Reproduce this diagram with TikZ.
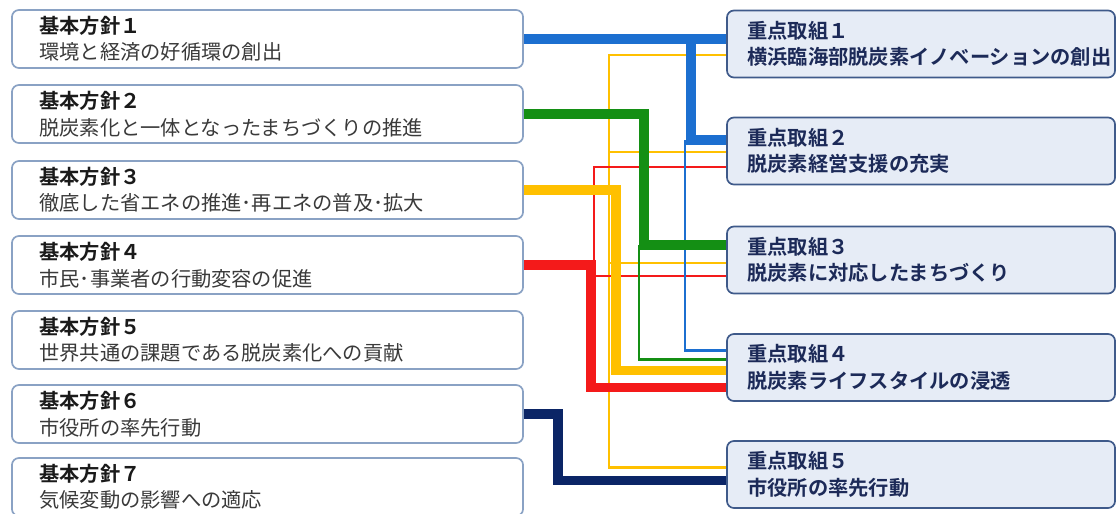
\documentclass[tikz,border=0pt]{standalone}
\usepackage{fontspec}
\newfontfamily\jpfont{Noto Sans CJK JP}[BoldFont={Noto Sans CJK JP Bold}]
\usetikzlibrary{calc,backgrounds}
\definecolor{lline}{HTML}{8AA2C4}
\definecolor{rline}{HTML}{3F5A8A}
\definecolor{rfill}{HTML}{E6ECF6}
\definecolor{ltitle}{HTML}{1A1A1A}
\definecolor{ltext}{HTML}{3A3A3A}
\definecolor{rtext}{HTML}{1C2A58}
\definecolor{cblue}{HTML}{1C6FD0}
\definecolor{cgreen}{HTML}{148F14}
\definecolor{cyellow}{HTML}{FFC000}
\definecolor{cred}{HTML}{F41A1A}
\definecolor{cnavy}{HTML}{0B2566}
\tikzset{
  lbox/.style={draw=lline,line width=1.2pt,fill=white,rounded corners=5pt,minimum width=12.775cm,minimum height=1.45cm},
  rbox/.style={draw=rline,line width=1.2pt,fill=rfill,rounded corners=5pt,minimum width=9.7cm,minimum height=1.675cm},
  ltxt/.style={anchor=west,align=left,inner sep=0pt,text=ltext,font=\jpfont\fontsize{14.4}{18.8}\selectfont},
  rtxt/.style={anchor=west,align=left,inner sep=0pt,text=rtext,font=\jpfont\bfseries\fontsize{14.4}{18.8}\selectfont},
  mainlink/.style={line width=7.1pt},
  sublink/.style={line width=1.6pt}
}
\begin{document}
\begin{tikzpicture}[x=0.025cm,y=-0.025cm]
  \useasboundingbox (0,0) rectangle (1118,513);
  \foreach \i/\n/\y/\txt in {1/１/39/環境と経済の好循環の創出,2/２/114/脱炭素化と一体となったまちづくりの推進,
      3/３/190/徹底した省エネの推進･再エネの普及･拡大,4/４/265/市民･事業者の行動変容の促進,
      5/５/340/世界共通の課題である脱炭素化への貢献,6/６/414/市役所の率先行動,7/７/487/気候変動の影響への適応}{
    \node[lbox] (b\i) at (267.5,\y) {};
    \node[ltxt] (bt\i) at ([xshift=0.7cm]b\i.west) {\textcolor{ltitle}{\bfseries 基本方針\n}\\\txt};
  }
  \foreach \i/\n/\y/\txt in {1/１/44/横浜臨海部脱炭素イノベーションの創出,2/２/151/脱炭素経営支援の充実,
      3/３/260/脱炭素に対応したまちづくり,4/４/367.5/脱炭素ライフスタイルの浸透,5/５/474.5/市役所の率先行動}{
    \node[rbox] (r\i) at (921,\y) {};
    \node[rtxt] (rt\i) at ([xshift=0.525cm]r\i.west) {重点取組\n\\\txt};
  }
  \begin{scope}[on background layer]
    \draw[sublink,cyellow] ($(r1.west)+(0,11)$) -- ++(-117,0) |- ($(r5.west)+(0,-7)$);
    \draw[sublink,cyellow] ($(r2.west)+(0,1)$) -- ++(-117,0);
    \draw[sublink,cyellow] ($(r3.west)+(0,3)$) -- ++(-117,0);
    \draw[sublink,cred] ($(r2.west)+(0,16)$) -- ++(-132,0) |- ($(r3.west)+(0,16)$);
    \draw[sublink,cgreen] ($(r4.west)+(0,-8)$) -| ($(r3.west)+(-87,-15)$);
    \draw[sublink,cblue] ($(r4.west)+(0,-17)$) -| ($(r2.west)+(-41,-11)$);
    \draw[mainlink,cblue] (b1.east) -- (b1.east -| r1.west);
    \draw[mainlink,cblue] ($(r2.west)+(0,-11)$) -| ($(b1.east -| r1.west)+(-35,0)$);
    \draw[mainlink,cgreen] (b2.east) -- ++(120,0) |- ($(r3.west)+(0,-15)$);
    \draw[mainlink,cyellow] (b3.east) -- ++(92,0) |- ($(r4.west)+(0,3)$);
    \draw[mainlink,cred] (b4.east) -- ++(67,0) |- ($(r4.west)+(0,20)$);
    \draw[mainlink,cnavy] (b6.east) -- ++(34,0) |- ($(r5.west)+(0,6)$);
  \end{scope}
\end{tikzpicture}
\end{document}
